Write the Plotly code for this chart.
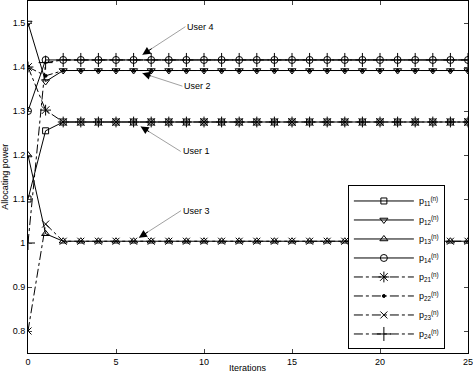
import plotly.graph_objects as go

iterations = list(range(26))

p11 = [1.10, 1.255] + [1.275] * 24
p12 = [1.50, 1.367] + [1.392] * 24
p13 = [1.20, 1.021] + [1.004] * 24
p14 = [1.30, 1.416] + [1.416] * 24
p21 = [1.40, 1.302] + [1.275] * 24
p22 = [1.40, 1.380] + [1.392] * 24
p23 = [0.80, 1.043] + [1.004] * 24
p24 = [1.00, 1.410] + [1.416] * 24

series_names = ["p<sub>11</sub><sup>(n)</sup>", "p<sub>12</sub><sup>(n)</sup>",
                "p<sub>13</sub><sup>(n)</sup>", "p<sub>14</sub><sup>(n)</sup>",
                "p<sub>21</sub><sup>(n)</sup>", "p<sub>22</sub><sup>(n)</sup>",
                "p<sub>23</sub><sup>(n)</sup>", "p<sub>24</sub><sup>(n)</sup>"]
series_values = [p11, p12, p13, p14, p21, p22, p23, p24]
symbols = ["square-open", "triangle-down-open", "triangle-up-open", "circle-open",
           "asterisk-open", "circle", "x-thin-open", "cross-thin-open"]
sizes = [6, 7, 7, 7, 9, 3, 7, 10]
dashes = ["solid"] * 4 + ["dashdot"] * 4

user_labels = ["User 4", "User 2", "User 1", "User 3"]
user_tip_x = [6.5, 6.5, 6.4, 6.3]
user_tip_y = [1.428, 1.386, 1.265, 1.012]
user_ax = [43, 40, 40, 42]
user_ay = [-28, 13, 25, -27]

fig = go.Figure()
for name, vals, sym, sz, dash in zip(series_names, series_values, symbols, sizes, dashes):
    fig.add_trace(go.Scatter(
        x=iterations, y=vals, name=name, mode="lines+markers",
        line=dict(color="black", width=1, dash=dash),
        marker=dict(symbol=sym, size=sz, color="black", line=dict(color="black", width=1)),
    ))

for lab, tx, ty, ax, ay in zip(user_labels, user_tip_x, user_tip_y, user_ax, user_ay):
    fig.add_annotation(x=tx, y=ty, xref="x", yref="y", ax=ax, ay=ay,
                       text=lab, showarrow=True, arrowhead=0, arrowwidth=0.7,
                       arrowcolor="#777", font=dict(size=9, color="black"),
                       xanchor="left", standoff=0)
    fig.add_annotation(x=tx, y=ty, xref="x", yref="y", ax=ax * 0.25, ay=ay * 0.25,
                       text="", showarrow=True, arrowhead=2, arrowsize=1.6, arrowwidth=1,
                       arrowcolor="black", standoff=0)

fig.add_annotation(x=0.5, y=-0.043, xref="paper", yref="paper", text="Iterations",
                   showarrow=False, xanchor="center", yanchor="middle", font=dict(size=9))
fig.add_annotation(x=-0.053, y=0.5, xref="paper", yref="paper", text="Allocating power",
                   showarrow=False, textangle=-90, xanchor="center", yanchor="middle",
                   font=dict(size=9))

fig.update_layout(
    width=473, height=377,
    margin=dict(l=28, r=5, t=1, b=24, autoexpand=False),
    paper_bgcolor="white", plot_bgcolor="white",
    font=dict(family="Liberation Sans, Arial, sans-serif", size=9, color="black"),
    showlegend=True,
    legend=dict(x=0.727, y=0.01, xanchor="left", yanchor="bottom",
                bordercolor="black", borderwidth=1, bgcolor="white",
                font=dict(size=9), itemwidth=60, tracegroupgap=0),
)
fig.update_xaxes(range=[0, 25], tickvals=[0, 5, 10, 15, 20, 25], automargin=False,
                 ticklabeloverflow="allow",
                 ticks="inside", ticklen=4, showline=True, linecolor="black", linewidth=1,
                 mirror="ticks", showgrid=False, zeroline=False)
fig.update_yaxes(range=[0.75, 1.55], tickvals=[0.8, 0.9, 1.0, 1.1, 1.2, 1.3, 1.4, 1.5],
                 ticktext=["0.8", "0.9", "1", "1.1", "1.2", "1.3", "1.4", "1.5"], automargin=False,
                 ticklabeloverflow="allow",
                 ticks="inside", ticklen=4, showline=True, linecolor="black", linewidth=1,
                 mirror="ticks", showgrid=False, zeroline=False)

fig.write_html("out.html", config={"displayModeBar": False},
               post_script="document.body.style.margin='0';document.body.style.overflow='hidden';")
